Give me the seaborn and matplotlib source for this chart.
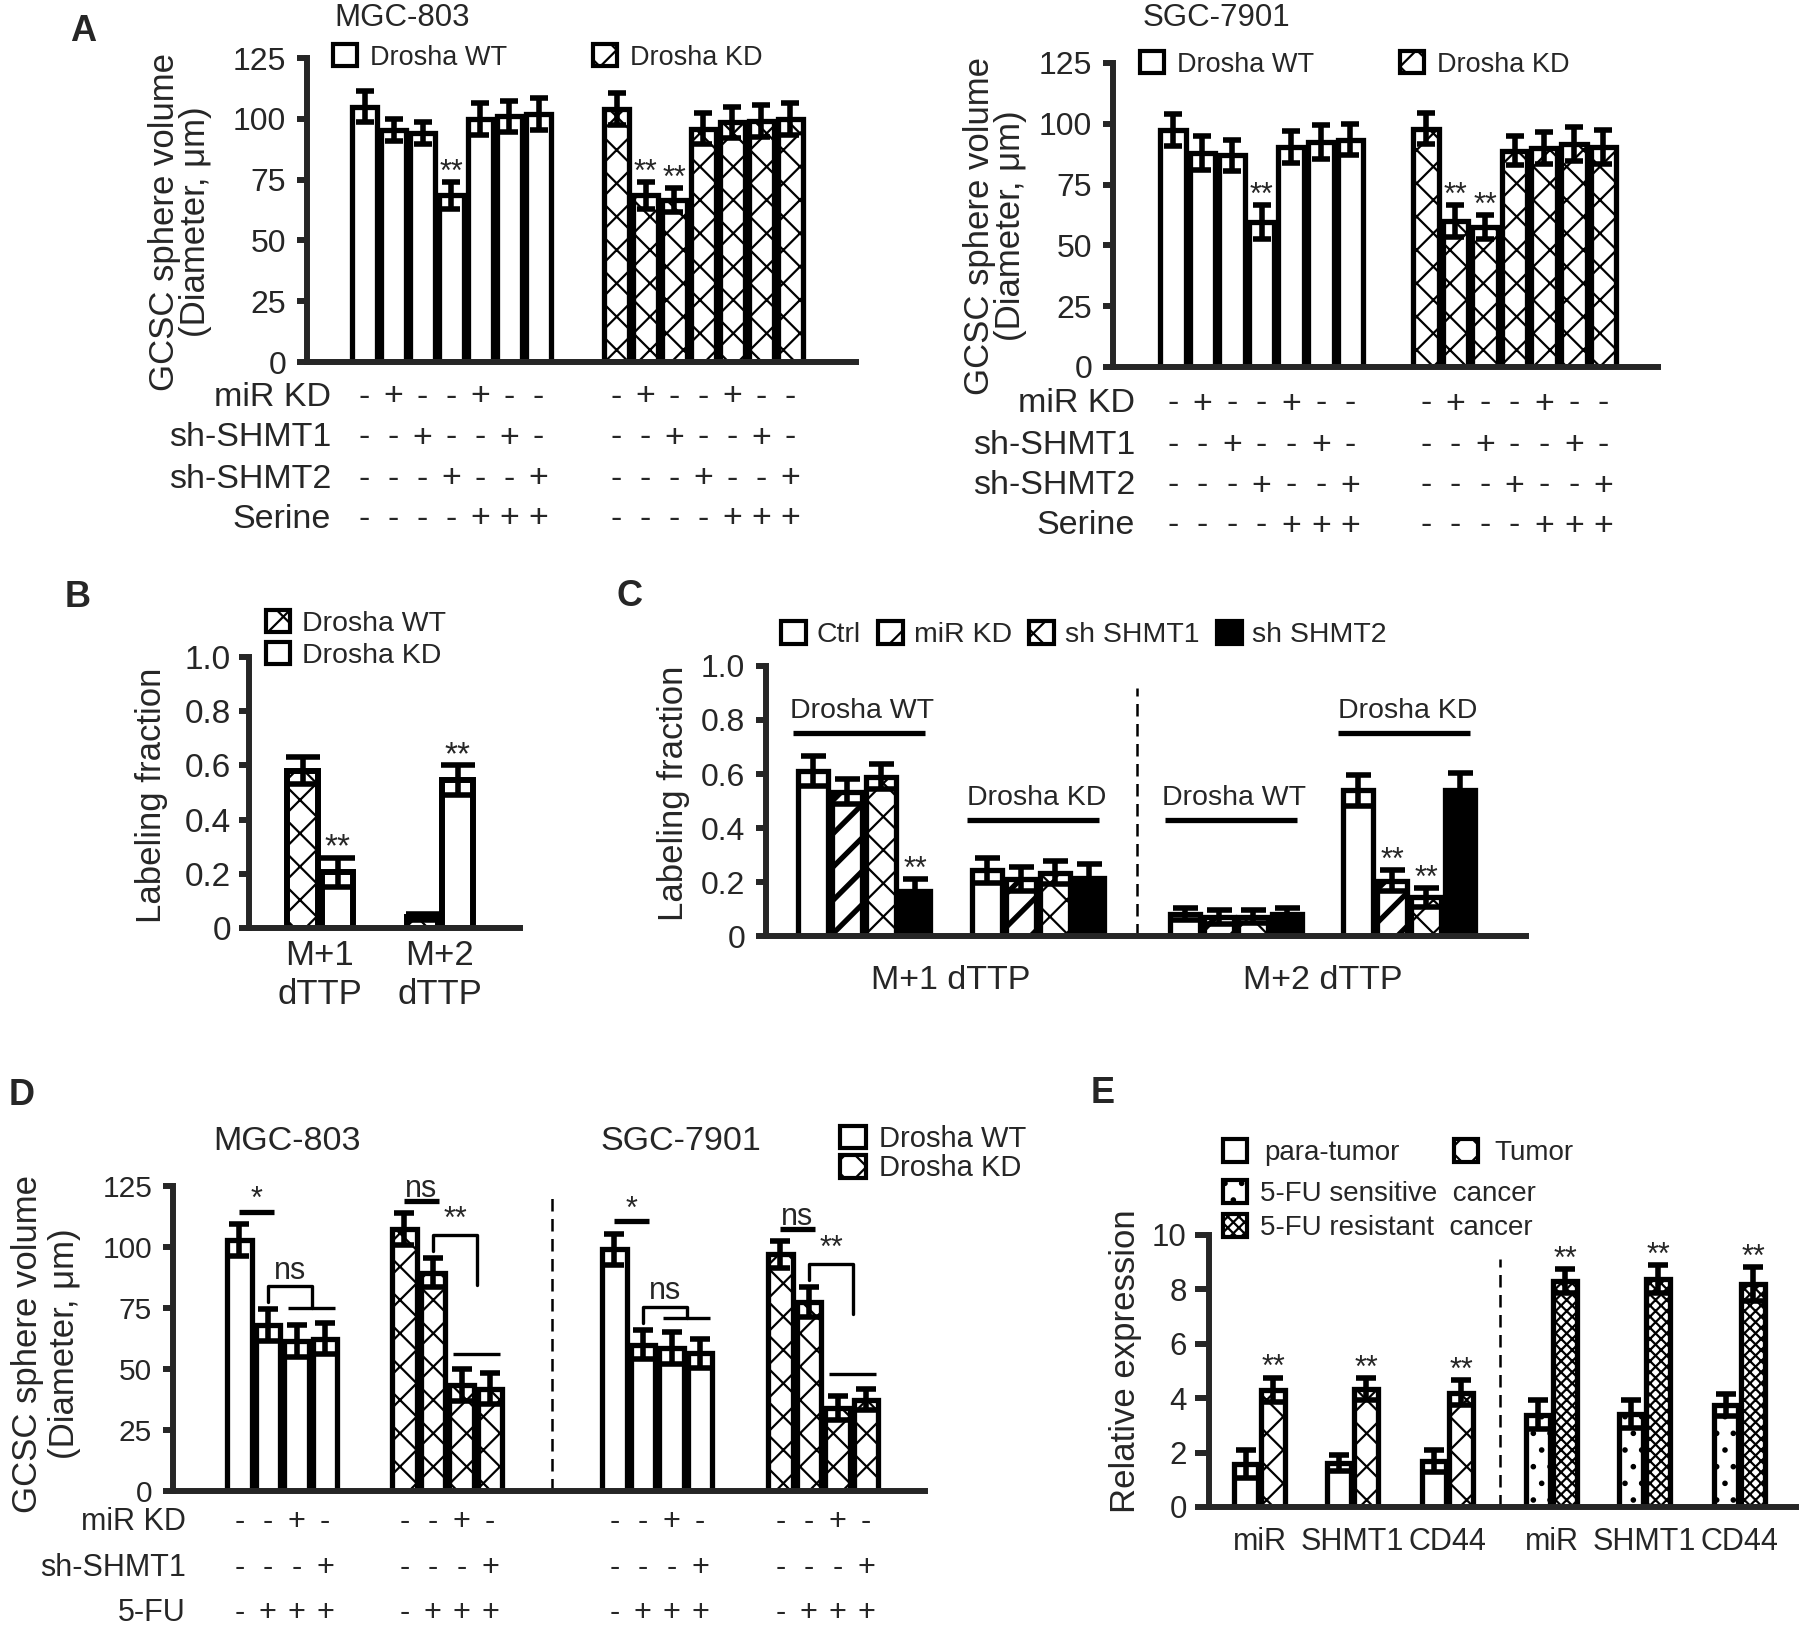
import numpy as np
import pandas as pd
import matplotlib
matplotlib.use("Agg")
import matplotlib.pyplot as plt
from matplotlib.patches import Patch
from matplotlib.transforms import blended_transform_factory
import seaborn as sns

# ---------------- data ----------------
# A: GCSC sphere volume (diameter, um), 7 conditions per Drosha group
a_rows = ["miR KD", "sh-SHMT1", "sh-SHMT2", "Serine"]
a_signs = [["-", "+", "-", "-", "+", "-", "-"],
           ["-", "-", "+", "-", "-", "+", "-"],
           ["-", "-", "-", "+", "-", "-", "+"],
           ["-", "-", "-", "-", "+", "+", "+"]]
a_mgc_wt = [105, 95.5, 94, 68.5, 100, 101, 102]
a_mgc_wt_err = [6.5, 4.5, 4.5, 5.5, 6.5, 6.5, 6.5]
a_mgc_kd = [104, 68.5, 66.5, 96, 98.5, 99, 100]
a_mgc_kd_err = [6.5, 5.5, 5, 6.5, 6.5, 6.5, 6.5]
a_sgc_wt = [97.5, 88, 87, 59.5, 90.5, 92.5, 93.5]
a_sgc_wt_err = [6.5, 7, 6.5, 7, 6.5, 7, 6.5]
a_sgc_kd = [98, 60, 57.5, 89, 90, 91.5, 90.5]
a_sgc_kd_err = [6.5, 6.5, 5, 6, 6.5, 7, 7]
a_wt_sig = [3]
a_kd_sig = [1, 2]

# B: labeling fraction
b_labels = ["M+1\ndTTP", "M+2\ndTTP"]
b_wt = [0.58, 0.04]
b_wt_err = [0.05, 0.012]
b_kd = [0.205, 0.545]
b_kd_err = [0.055, 0.055]

# C: labeling fraction, 4 treatments x 4 groups
c_legend = ["Ctrl", "miR KD", "sh SHMT1", "sh SHMT2"]
c_groups = ["Drosha WT", "Drosha KD", "Drosha WT", "Drosha KD"]
c_xlabels = ["M+1 dTTP", "M+2 dTTP"]
c_m1_wt = [0.61, 0.535, 0.59, 0.165]
c_m1_wt_err = [0.055, 0.045, 0.047, 0.045]
c_m1_kd = [0.243, 0.21, 0.235, 0.215]
c_m1_kd_err = [0.047, 0.045, 0.042, 0.05]
c_m2_wt = [0.08, 0.07, 0.072, 0.08]
c_m2_wt_err = [0.022, 0.025, 0.025, 0.022]
c_m2_kd = [0.54, 0.205, 0.143, 0.54]
c_m2_kd_err = [0.058, 0.038, 0.035, 0.062]
c_sig_group = [0, 3, 3]
c_sig_bar = [3, 1, 2]

# D: sphere volume with 5-FU
d_rows = ["miR KD", "sh-SHMT1", "5-FU"]
d_signs = [["-", "-", "+", "-"],
           ["-", "-", "-", "+"],
           ["-", "+", "+", "+"]]
d_mgc_wt = [103, 68, 61.5, 62.5]
d_mgc_wt_err = [6.5, 6.5, 6.5, 6.5]
d_mgc_kd = [107.5, 89.5, 43.5, 42]
d_mgc_kd_err = [6.5, 6, 6.5, 6.5]
d_sgc_wt = [99, 60, 58.5, 56.5]
d_sgc_wt_err = [6.5, 6, 6.5, 6]
d_sgc_kd = [97, 77.5, 34, 37.5]
d_sgc_kd_err = [5.5, 6, 5, 4.5]
d_single_txt = ["*", "ns", "*", "ns"]
d_bracket_txt = ["ns", "**", "ns", "**"]

# E: relative expression
e_genes = ["miR", "SHMT1", "CD44"]
e_para = [1.58, 1.62, 1.68]
e_para_err = [0.52, 0.3, 0.4]
e_tumor = [4.31, 4.35, 4.2]
e_tumor_err = [0.45, 0.4, 0.46]
e_sens = [3.4, 3.42, 3.75]
e_sens_err = [0.55, 0.52, 0.42]
e_resist = [8.3, 8.38, 8.2]
e_resist_err = [0.45, 0.5, 0.62]

# ---------------- style ----------------
sns.set_style("ticks")
plt.rcParams["font.family"] = ["Liberation Sans", "DejaVu Sans"]
plt.rcParams["hatch.linewidth"] = 1.6
plt.rcParams["axes.linewidth"] = 4.3

STYLE = {
    "open": ("white", ""),
    "wavy": ("white", "x"),
    "cross": ("white", "x"),
    "stripe": ("white", "/"),
    "solid": ("black", ""),
    "dots": ("white", "."),
    "dense": ("white", "xxx"),
}

W, H = 1800, 1629
fig = plt.figure(figsize=(W / 100, H / 100), dpi=100)


def fx(p):
    return p / W


def fy(p):
    return 1 - p / H


# pixel layout: axes box (left, top, right, bottom), bar pitch, group starts
LAY = {
    "A1": dict(box=(307, 58, 856, 362), bw=29, starts=[43, 295]),
    "A2": dict(box=(1113, 63, 1658, 367), bw=29.6, starts=[45, 298]),
    "B": dict(box=(249, 657, 520, 928), bw=35, starts=[36, 156]),
    "C": dict(box=(766, 666, 1526, 936), bw=34, starts=[30, 204, 402, 575]),
    "D": dict(box=(173, 1186, 925, 1491), bw=28.6, starts=[52, 217, 427, 593]),
    "E": dict(box=(1209, 1235, 1796, 1507), bw=27.5, starts=[23, 116, 211, 315, 408, 503]),
}


def set_hatch_lw(p, lw):
    if hasattr(p, "set_hatch_linewidth"):
        p.set_hatch_linewidth(lw)


def bar_panel(key, groups, ymax, yticks, yticklabels, fs, tlen, pad,
              lw=3.8, cap=7, elw=4.0):
    lay = LAY[key]
    L, T, R, B = lay["box"]
    ax = fig.add_axes([fx(L), fy(B), (R - L) / W, (B - T) / H])
    rows = []
    for g, (means, errs, styles) in enumerate(groups):
        base = lay["starts"][g] / lay["bw"]
        for i, (m, e, s) in enumerate(zip(means, errs, styles)):
            rows.append({"pos": base + i + 0.5, "val": m, "err": e,
                         "style": s, "group": g, "bar": i, "base": base})
    df = pd.DataFrame(rows)
    sns.barplot(data=df, x="pos", y="val", native_scale=True, width=0.86,
                errorbar=None, color="white", edgecolor="black",
                linewidth=lw, ax=ax, zorder=2)
    for p in ax.patches:
        c = p.get_x() + p.get_width() / 2
        k = int(np.argmin(np.abs(df["pos"].to_numpy() - c)))
        st = df["style"].iloc[k]
        face, hatch = STYLE[st]
        p.set_facecolor(face)
        p.set_hatch(hatch)
        p.set_linewidth(lw)
        if st == "stripe":
            set_hatch_lw(p, 3.8)
    ax.errorbar(df["pos"], df["val"], yerr=df["err"], fmt="none",
                ecolor="black", elinewidth=elw, capsize=cap, capthick=elw,
                zorder=4)
    ax.set_xlim(0, (R - L) / lay["bw"])
    ax.set_ylim(0, ymax)
    sns.despine(ax=ax)
    ax.set_xticks([])
    ax.set_yticks(yticks)
    ax.set_yticklabels(yticklabels)
    ax.tick_params(axis="y", labelsize=fs, length=tlen, width=4.3, pad=pad)
    ax.set_xlabel("")
    ax.set_ylabel("")
    ax.patch.set_alpha(0)
    return ax, df


def stars(ax, df, text="**", fs=22, dy=1):
    for _, r in df.iterrows():
        ax.annotate(text, (r["pos"], r["val"] + r["err"]), xytext=(0, dy),
                    textcoords="offset points", ha="center", va="baseline",
                    fontsize=fs, zorder=6)


def sign_rows(ax, df, names, signs, label_x, ys, fs):
    tr = blended_transform_factory(ax.transData, fig.transFigure)
    bases = sorted(df["base"].unique())
    for name, sg, y in zip(names, signs, ys):
        fig.text(fx(label_x), fy(y), name, ha="right", va="center", fontsize=fs)
        for b in bases:
            for i, s in enumerate(sg):
                ax.text(b + i + 0.5, fy(y), s, transform=tr, ha="center",
                        va="center", fontsize=fs)


def legend_at(items, x, top, fs, ncol=1, colsp=1.0, hl=0.9, hh=0.85,
              tp=0.45, lsp=0.1):
    handles = []
    for st in items:
        face, hatch = STYLE[st]
        h = Patch(facecolor=face, edgecolor="black", hatch=hatch, linewidth=3.0)
        if st == "stripe":
            set_hatch_lw(h, 2.5)
        handles.append(h)
    return handles, dict(loc="upper left", bbox_to_anchor=(fx(x), fy(top)),
                         ncol=ncol, frameon=False, fontsize=fs,
                         handlelength=hl, handleheight=hh, handletextpad=tp,
                         columnspacing=colsp, labelspacing=lsp, borderpad=0,
                         borderaxespad=0)


def letter(s, x, base):
    fig.text(fx(x), fy(base), s, fontsize=26, fontweight="bold",
             ha="left", va="baseline")


def ylab(s, x, y, fs=25, ls=0.95):
    fig.text(fx(x), fy(y), s, rotation=90, ha="center", va="center",
             fontsize=fs, linespacing=ls, multialignment="center")


# ---------------- Panel A ----------------
a_ticks = [0, 25, 50, 75, 100, 125]
for key, wt, wte, kd, kde, title, tx, lab_x, row_ys, yl_x, yl_y, leg in [
        ("A1", a_mgc_wt, a_mgc_wt_err, a_mgc_kd, a_mgc_kd_err, "MGC-803",
         402, 331, [397, 438, 479, 519], 180, 222, (333, 48)),
        ("A2", a_sgc_wt, a_sgc_wt_err, a_sgc_kd, a_sgc_kd_err, "SGC-7901",
         1216, 1135, [404, 445, 486, 526], 995, 226, (1140, 55))]:
    ax, df = bar_panel(key, [(wt, wte, ["open"] * 7), (kd, kde, ["wavy"] * 7)],
                       125, a_ticks, [str(t) for t in a_ticks], 23, 7, 8, cap=6.5)
    sig = df[((df["group"] == 0) & df["bar"].isin(a_wt_sig)) |
             ((df["group"] == 1) & df["bar"].isin(a_kd_sig))]
    stars(ax, sig)
    sign_rows(ax, df, a_rows, a_signs, lab_x, row_ys, 24.5)
    fig.text(fx(tx), fy(18), title, ha="center", va="center", fontsize=22.5)
    ylab("GCSC sphere volume\n(Diameter, μm)", yl_x, yl_y)
    hs, kw = legend_at(["open", "wavy"], leg[0], leg[1] - 4, 19.5, ncol=2,
                       colsp=3.15, hl=0.89, hh=0.89, tp=0.48)
    fig.legend(hs, ["Drosha WT", "Drosha KD"], **kw)
letter("A", 70, 41)

# ---------------- Panel B ----------------
b_ticks = [0, 0.2, 0.4, 0.6, 0.8, 1.0]
ax, df = bar_panel("B", [([b_wt[0], b_kd[0]], [b_wt_err[0], b_kd_err[0]], ["cross", "open"]),
                         ([b_wt[1], b_kd[1]], [b_wt_err[1], b_kd_err[1]], ["cross", "open"])],
                   1.0, b_ticks, ["0", "0.2", "0.4", "0.6", "0.8", "1.0"], 24, 7, 6,
                   lw=4.3, cap=12)
stars(ax, df[df["bar"] == 1], fs=24)
tr = blended_transform_factory(ax.transData, fig.transFigure)
for b, lab in zip(sorted(df["base"].unique()), b_labels):
    ax.text(b + 1, fy(975), lab, transform=tr, ha="center", va="center",
            fontsize=25, linespacing=1.22)
ylab("Labeling fraction", 152, 795)
hs, kw = legend_at(["cross", "open"], 266, 610, 20.5, hl=0.84, hh=0.8,
                   tp=0.42, lsp=0.18)
fig.legend(hs, ["Drosha WT", "Drosha KD"], **kw)
letter("B", 65, 607)

# ---------------- Panel C ----------------
c_styles = ["open", "stripe", "cross", "solid"]
ax, df = bar_panel("C", [(c_m1_wt, c_m1_wt_err, c_styles), (c_m1_kd, c_m1_kd_err, c_styles),
                         (c_m2_wt, c_m2_wt_err, c_styles), (c_m2_kd, c_m2_kd_err, c_styles)],
                   1.0, b_ticks, ["0", "0.2", "0.4", "0.6", "0.8", "1.0"], 23, 7, 8,
                   cap=9)
sel = np.zeros(len(df), bool)
for g, i in zip(c_sig_group, c_sig_bar):
    sel |= (df["group"] == g).to_numpy() & (df["bar"] == i).to_numpy()
stars(ax, df[sel])
bases = sorted(df["base"].unique())
c_line_y = [0.752, 0.43, 0.43, 0.752]
for b, name, ly in zip(bases, c_groups, c_line_y):
    ax.plot([b - 0.1, b + 3.8], [ly, ly], color="black", lw=3.8, solid_capstyle="butt")
    ax.text(b + 1.95, ly + 0.056, name, ha="center", va="baseline", fontsize=20.5)
c_dash = (bases[1] + 4 + bases[2]) / 2
ax.vlines(c_dash, 0, 0.92, colors="black", lw=1.8, linestyles=(0, (5, 3)))
tr = blended_transform_factory(ax.transData, fig.transFigure)
for k, lab in enumerate(c_xlabels):
    xc = (bases[2 * k] + bases[2 * k + 1] + 4) / 2
    ax.text(xc, fy(989), lab, transform=tr, ha="center", va="baseline", fontsize=24.5)
ylab("Labeling fraction", 674, 793)
hs, kw = legend_at(c_styles, 781, 621, 20.5, ncol=4, colsp=0.6, hl=0.88,
                   hh=0.84, tp=0.38)
fig.legend(hs, c_legend, **kw)
letter("C", 617, 606)

# ---------------- Panel D ----------------
d_sets = [(d_mgc_wt, d_mgc_wt_err, ["open"] * 4), (d_mgc_kd, d_mgc_kd_err, ["wavy"] * 4),
          (d_sgc_wt, d_sgc_wt_err, ["open"] * 4), (d_sgc_kd, d_sgc_kd_err, ["wavy"] * 4)]
ax, df = bar_panel("D", d_sets, 125, a_ticks, [str(t) for t in a_ticks], 21.5, 7, 8, cap=7.5)
sign_rows(ax, df, d_rows, d_signs, 186, [1522, 1568, 1613], 22)
bases = sorted(df["base"].unique())
for g, b in enumerate(bases):
    m = np.array(d_sets[g][0])
    e = np.array(d_sets[g][1])
    top = m + e
    # single comparison line above first bar
    y1 = top[0] + 5
    ax.plot([b + 0.5, b + 1.7], [y1, y1], color="black", lw=3.8, solid_capstyle="butt")
    ax.text(b + 1.1, y1 + 1.5, d_single_txt[g], ha="center", va="baseline", fontsize=22)
    # pair line over bars 3-4 and bracket from bar 2
    yp = max(top[2], top[3]) + 6
    ax.plot([b + 2.2, b + 3.85], [yp, yp], color="black", lw=2.4, solid_capstyle="butt")
    yl = top[1] + 3
    yt = yl + 6.5
    yr = max(yp, yl - 14)
    xr = b + 3.05
    ax.plot([b + 1.5, b + 1.5, xr, xr], [yl, yt, yt, yr], color="black", lw=2.4)
    ax.text((b + 1.5 + xr) / 2, yt + 3, d_bracket_txt[g], ha="center",
            va="baseline", fontsize=22)
d_dash = (bases[1] + 4 + bases[2]) / 2
ax.vlines(d_dash, 0, 121.5, colors="black", lw=1.8, linestyles=(0, (5, 3)))
fig.text(fx(287), fy(1142), "MGC-803", ha="center", va="center", fontsize=24.5)
fig.text(fx(681), fy(1142), "SGC-7901", ha="center", va="center", fontsize=24.5)
ylab("GCSC sphere volume\n(Diameter, μm)", 46, 1344, ls=1.12)
hs, kw = legend_at(["open", "wavy"], 840, 1125, 21, hl=0.89, hh=0.82,
                   tp=0.45, lsp=0.05)
fig.legend(hs, ["Drosha WT", "Drosha KD"], **kw)
letter("D", 9, 1105)

# ---------------- Panel E ----------------
e_sets = []
for k in range(3):
    e_sets.append(([e_para[k], e_tumor[k]], [e_para_err[k], e_tumor_err[k]], ["open", "cross"]))
for k in range(3):
    e_sets.append(([e_sens[k], e_resist[k]], [e_sens_err[k], e_resist_err[k]], ["dots", "dense"]))
e_ticks = [0, 2, 4, 6, 8, 10]
ax, df = bar_panel("E", e_sets, 10, e_ticks, [str(t) for t in e_ticks], 22.5, 10, 6, cap=7)
stars(ax, df[df["bar"] == 1])
bases = sorted(df["base"].unique())
tr = blended_transform_factory(ax.transData, fig.transFigure)
for b, lab in zip(bases, e_genes + e_genes):
    ax.text(b + 1, fy(1550), lab, transform=tr, ha="center", va="baseline", fontsize=22)
e_dash = (bases[2] + 2 + bases[3]) / 2
ax.vlines(e_dash, 0, 9.1, colors="black", lw=1.8, linestyles=(0, (5, 3)))
ylab("Relative expression", 1126, 1361, fs=25)
hs, kw = legend_at(["open", "cross"], 1223, 1139, 20, ncol=2, colsp=1.95,
                   hl=0.88, hh=0.9, tp=0.6)
fig.legend(hs, ["para-tumor", "Tumor"], **kw)
hs, kw = legend_at(["dots", "dense"], 1223, 1180, 20, hl=0.88, hh=0.88,
                   tp=0.45, lsp=0.25)
fig.legend(hs, ["5-FU sensitive  cancer", "5-FU resistant  cancer"], **kw)
letter("E", 1091, 1103)

fig.savefig("out.png", dpi=100)
